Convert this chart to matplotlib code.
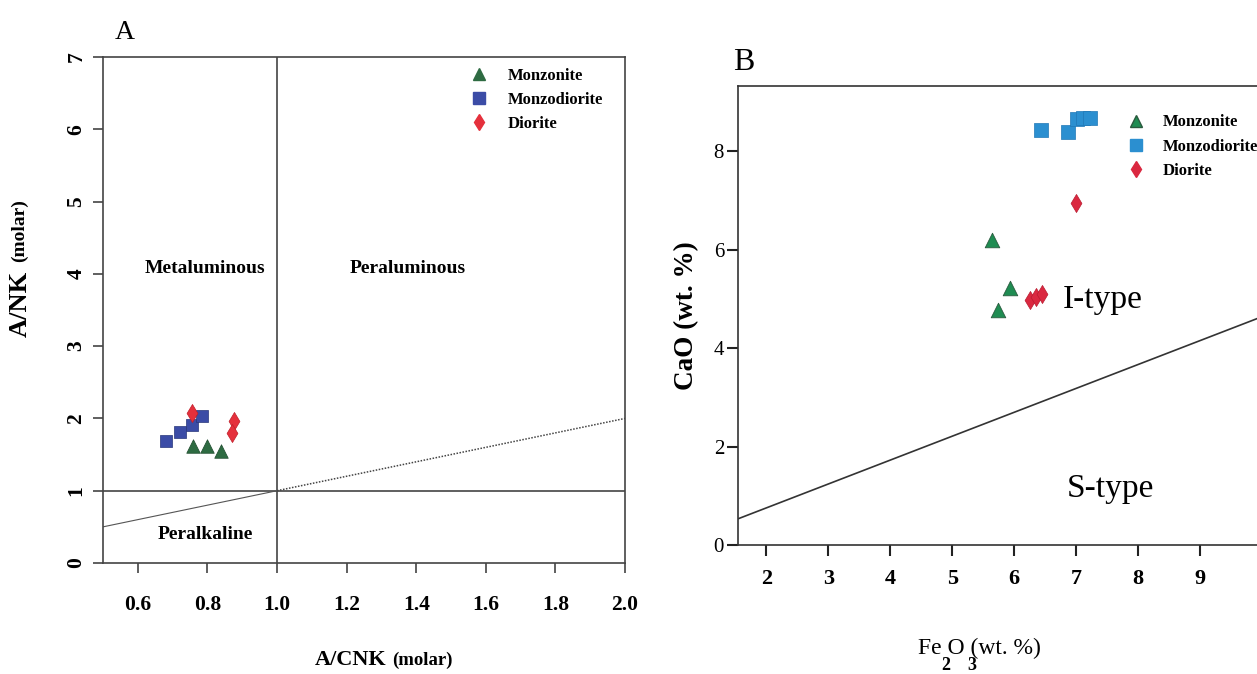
import matplotlib.pyplot as plt
from matplotlib.lines import Line2D

plt.rcParams['font.family'] = ['Liberation Serif', 'DejaVu Serif']

# ---- panel A data (A/CNK vs A/NK) ----
a_monzonite_x = [0.76, 0.80, 0.84]
a_monzonite_y = [1.62, 1.62, 1.55]
a_monzodiorite_x = [0.68, 0.72, 0.755, 0.785]
a_monzodiorite_y = [1.69, 1.81, 1.91, 2.04]
a_diorite_x = [0.755, 0.875, 0.870]
a_diorite_y = [2.08, 1.97, 1.80]
a_xticks = [0.6, 0.8, 1.0, 1.2, 1.4, 1.6, 1.8, 2.0]
a_yticks = [0, 1, 2, 3, 4, 5, 6, 7]

# ---- panel B data (Fe2O3 vs CaO) ----
b_monzonite_x = [5.64, 5.93, 5.74]
b_monzonite_y = [6.20, 5.22, 4.78]
b_monzodiorite_x = [6.43, 6.87, 7.01, 7.11, 7.22]
b_monzodiorite_y = [8.43, 8.40, 8.66, 8.68, 8.68]
b_diorite_x = [7.00, 6.25, 6.35, 6.45]
b_diorite_y = [6.95, 4.98, 5.04, 5.10]
b_xticks = [2, 3, 4, 5, 6, 7, 8, 9]
b_yticks = [0, 2, 4, 6, 8]
b_line_x = [1.0, 10.5]
b_line_y = [0.27, 4.88]

W, H = 1257, 674
fig = plt.figure(figsize=(W / 100, H / 100), dpi=100)

def px_axes(left, right, top, bottom):
    return fig.add_axes([left / W, (H - bottom) / H, (right - left) / W, (bottom - top) / H])

legend_font = {'family': 'Liberation Serif', 'weight': 'bold', 'size': 12}

# ================= panel A =================
ax = px_axes(103, 625, 57, 563)
ax.set_xlim(0.5, 2.0)
ax.set_ylim(0, 7)
for s in ax.spines.values():
    s.set_color('#444444')
    s.set_linewidth(1.2)

ax.plot([1.0, 1.0], [0, 7], color='#444444', lw=1.2)
ax.plot([0.5, 2.0], [1.0, 1.0], color='#444444', lw=1.2)
ax.plot([0.5, 1.0], [0.5, 1.0], color='#555555', lw=0.8)
ax.plot([1.0, 2.0], [1.0, 2.0], color='#444444', lw=1.1, linestyle=(0, (1, 1)))

ax.scatter(a_monzonite_x, a_monzonite_y, marker='^', s=95, color='#2e6b42', edgecolors='#1d4a2c', lw=0.5, zorder=3)
ax.scatter(a_monzodiorite_x, a_monzodiorite_y, marker='s', s=80, color='#3b4ca6', edgecolors='#27357a', lw=0.5, zorder=3)
ax.scatter(a_diorite_x, a_diorite_y, marker='d', s=85, color='#e5303c', edgecolors='#c01f2a', lw=0.5, zorder=4)

ax.set_xticks(a_xticks)
ax.set_xticklabels([f'{v:.1f}' for v in a_xticks], fontweight='bold', fontsize=15.5)
ax.set_yticks(a_yticks)
ax.set_yticklabels([str(v) for v in a_yticks], fontweight='bold', fontsize=15.5, rotation=90, va='center')
ax.tick_params(axis='both', direction='out', length=7, width=1.2, color='#444444')
ax.tick_params(axis='x', pad=16)
ax.tick_params(axis='y', pad=5)

ax.text(0.793, 4.08, 'Metaluminous', fontsize=14, fontweight='bold', ha='center', va='center')
ax.text(1.376, 4.08, 'Peraluminous', fontsize=14, fontweight='bold', ha='center', va='center')
ax.text(0.793, 0.40, 'Peralkaline', fontsize=14, fontweight='bold', ha='center', va='center')
ax.text(0.563, 7.34, 'A', fontsize=20, ha='center', va='center', clip_on=False)

ax.text(0.542, -0.2016, 'A/CNK', transform=ax.transAxes, fontsize=16, fontweight='bold', ha='right', va='baseline')
ax.text(0.553, -0.2016, '(molar)', transform=ax.transAxes, fontsize=13.5, fontweight='bold', ha='left', va='baseline')
ax.text(-0.158, 0.447, 'A/NK', transform=ax.transAxes, fontsize=19, fontweight='bold', ha='center', va='bottom', rotation=90)
ax.text(-0.160, 0.594, '(molar)', transform=ax.transAxes, fontsize=14, fontweight='bold', ha='center', va='bottom', rotation=90)

handles_a = [
    Line2D([], [], marker='^', ls='', ms=9, color='#2e6b42'),
    Line2D([], [], marker='s', ms=8, ls='', color='#3b4ca6'),
    Line2D([], [], marker='d', ms=8, ls='', color='#e5303c'),
]
ax.legend(handles_a, ['Monzonite', 'Monzodiorite', 'Diorite'], loc='upper left',
          bbox_to_anchor=(0.704, 0.979), frameon=False, borderpad=0, borderaxespad=0,
          handlelength=1, handletextpad=1.24, labelspacing=0.49, prop=legend_font)

# ================= panel B =================
bx = px_axes(738, 1261.6, 86, 545)
bx.set_xlim(1.54, 10.0)
bx.set_ylim(0, 9.33)
for s in bx.spines.values():
    s.set_color('#333333')
    s.set_linewidth(1.2)

bx.plot(b_line_x, b_line_y, color='#333333', lw=1.2)

bx.scatter(b_monzonite_x, b_monzonite_y, marker='^', s=110, color='#1f8c52', edgecolors='#2a5a3e', lw=0.6, zorder=3)
bx.scatter(b_monzodiorite_x, b_monzodiorite_y, marker='s', s=115, color='#2b8fd0', edgecolors='#2078b5', lw=0.5, zorder=3)
bx.scatter(b_diorite_x, b_diorite_y, marker='d', s=85, color='#da2840', edgecolors='#b81c30', lw=0.5, zorder=4)

bx.set_xticks(b_xticks)
bx.set_xticklabels([str(v) for v in b_xticks], fontweight='bold', fontsize=16)
bx.set_yticks(b_yticks)
bx.set_yticklabels([str(v) for v in b_yticks], fontsize=15)
bx.tick_params(axis='both', direction='out', length=8, width=1.5, color='#222222')
bx.tick_params(axis='x', pad=9)
bx.tick_params(axis='y', pad=2)

bx.text(7.43, 4.98, 'I-type', fontsize=24, ha='center', va='center')
bx.text(7.55, 1.15, 'S-type', fontsize=24, ha='center', va='center')
bx.text(1.625, 9.80, 'B', fontsize=23, ha='center', va='center', clip_on=False)

bx.text(-0.098, 0.50, 'CaO (wt. %)', transform=bx.transAxes, fontsize=19.5, fontweight='bold',
        ha='center', va='center', rotation=90)
bx.text(0.462, -0.237, 'Fe O (wt. %)', transform=bx.transAxes, fontsize=17,
        ha='center', va='baseline')
bx.text(0.397, -0.272, '2', transform=bx.transAxes, fontsize=13, fontweight='bold', ha='center', va='baseline')
bx.text(0.446, -0.272, '3', transform=bx.transAxes, fontsize=13, fontweight='bold', ha='center', va='baseline')

handles_b = [
    Line2D([], [], marker='^', ls='', ms=9, color='#1f8c52', markeredgecolor='#2a5a3e'),
    Line2D([], [], marker='s', ms=8, ls='', color='#2b8fd0'),
    Line2D([], [], marker='d', ms=8, ls='', color='#da2840'),
]
bx.legend(handles_b, ['Monzonite', 'Monzodiorite', 'Diorite'], loc='upper left',
          bbox_to_anchor=(0.744, 0.938), frameon=False, borderpad=0, borderaxespad=0,
          handlelength=1, handletextpad=1.1, labelspacing=0.5, prop=legend_font)

fig.savefig('out.png', dpi=100)
